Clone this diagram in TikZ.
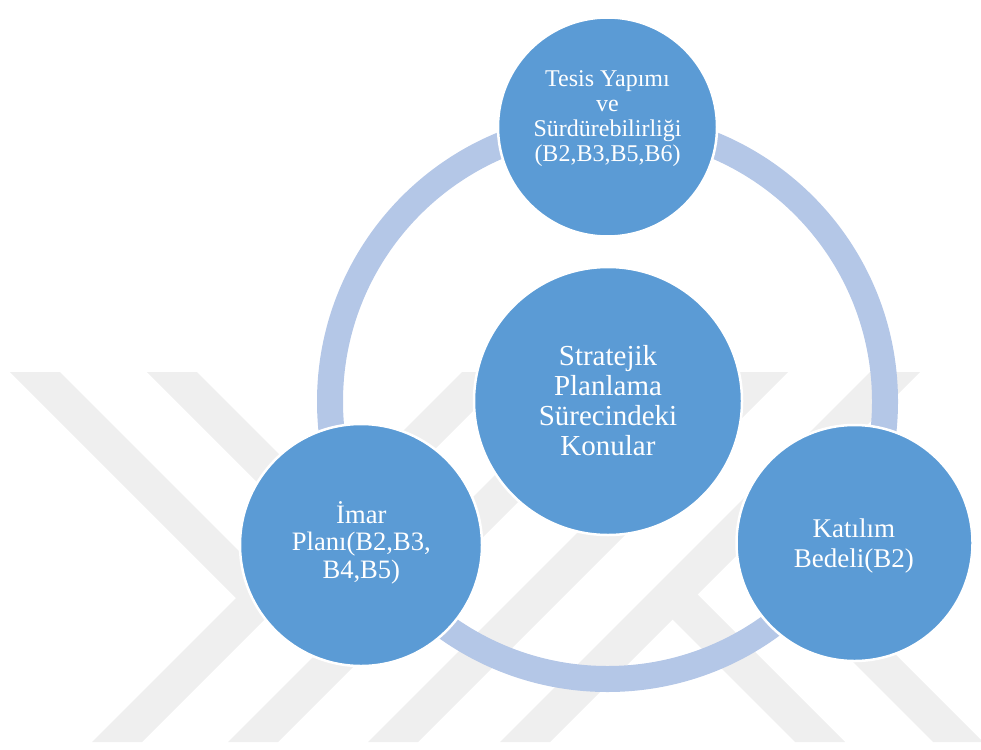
\documentclass[tikz,border=0pt]{standalone}
\usepackage{fontspec}
\setmainfont{Liberation Serif}
\newfontfamily\bubblefont{Liberation Serif}
\definecolor{bubblefill}{HTML}{5B9BD5}
\definecolor{ringblue}{HTML}{B4C7E7}
\definecolor{markgray}{HTML}{EFEFEF}
\tikzset{
  bubble/.style={circle, fill=bubblefill, draw=white, line width=2.5pt, inner sep=0pt},
  bubbletext/.style={text=white, align=center, inner sep=0pt},
  loopring/.style={draw=ringblue, line width=26pt},
  markband/.style={fill=markgray},
}
\begin{document}
\begin{tikzpicture}[x=1pt,y=-1pt]
\useasboundingbox (0,0) rectangle (981,749);

% background mark: light grey diagonal bands
\begin{scope}
  \clip (0,372) rectangle (981,742);
  \fill[markband] (92,742) -- (142,742) -- (512,372) -- (462,372) -- cycle;
  \fill[markband] (228,742) -- (278,742) -- (648,372) -- (598,372) -- cycle;
  \fill[markband] (368,742) -- (418,742) -- (788,372) -- (738,372) -- cycle;
  \fill[markband] (500,742) -- (550,742) -- (920,372) -- (870,372) -- cycle;
  \fill[markband] (10,372) -- (60,372) -- (264,576) -- (239,601) -- cycle;
  \fill[markband] (147,372) -- (197,372) -- (400.5,575.5) -- (375.5,600.5) -- cycle;
  \fill[markband] (669.5,616.5) -- (694.5,591.5) -- (845,742) -- (795,742) -- cycle;
  \fill[markband] (738.5,547.5) -- (763.5,522.5) -- (983,742) -- (933,742) -- cycle;
\end{scope}

% cycle ring
\coordinate (hub) at (607.5,401.5);
\draw[loopring] (hub) circle[radius=277.5];

% circles
\node[bubble, minimum size=219pt] (tesis) at (607.5,127) {};
\node[bubble, minimum size=268pt] (strateji) at (608,401) {};
\node[bubble, minimum size=242pt] (imar) at (361,545) {};
\node[bubble, minimum size=236pt] (katilim) at (854.5,543) {};

% labels
\node[bubbletext, font=\bubblefont\fontsize{24}{25}\selectfont] (tesisT) at (607.5,118.4)
  {Tesis Yapımı\\ve\\Sürdürebilirliği\\(B2,B3,B5,B6)};
\node[bubbletext, font=\bubblefont\fontsize{29}{30}\selectfont] (stratejiT) at (608,400.6)
  {Stratejik\\Planlama\\Sürecindeki\\Konular};
\node[bubbletext, font=\bubblefont\fontsize{26.6}{27.5}\selectfont] (imarT) at (361.3,542.7)
  {İmar\\Planı(B2,B3,\\B4,B5)};
\node[bubbletext, font=\bubblefont\fontsize{27}{30}\selectfont] (katilimT) at (853.8,545.7)
  {Katılım\\Bedeli(B2)};
\end{tikzpicture}
\end{document}
